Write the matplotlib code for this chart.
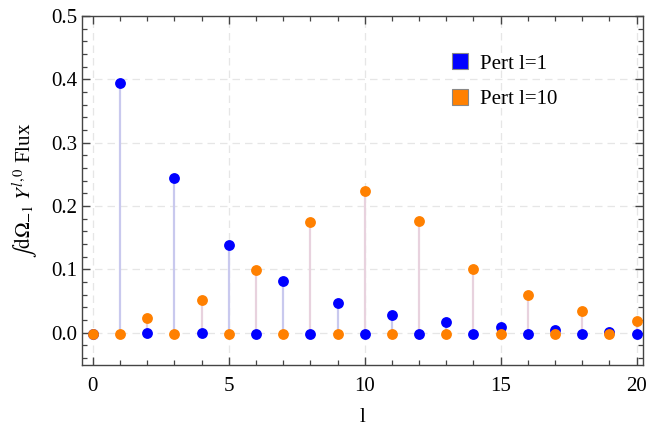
import matplotlib
matplotlib.use("Agg")
import matplotlib.pyplot as plt
from matplotlib.ticker import MultipleLocator
from matplotlib.lines import Line2D
import numpy as np

plt.rcParams['font.family'] = ['Liberation Serif', 'DejaVu Serif']
plt.rcParams['mathtext.fontset'] = 'stix'

l_vals = list(range(21))
pert1 = [-0.003, 0.394, -0.0005, 0.244, -0.0005, 0.139, -0.002, 0.081, -0.002, 0.047,
         -0.003, 0.028, -0.003, 0.016, -0.003, 0.008, -0.003, 0.0047, -0.003, 0.0016, -0.003]
pert10 = [-0.003, -0.003, 0.0236, -0.003, 0.052, -0.002, 0.098, -0.002, 0.175, -0.002,
          0.224, -0.002, 0.176, -0.002, 0.101, -0.002, 0.0586, -0.002, 0.0335, -0.002, 0.019]
labels = ["Pert l=1", "Pert l=10"]
colors = ["#0000FF", "#FF8000"]
stem_colors = ["#c9c9ee", "#e8d2de"]

fig = plt.figure(figsize=(6.46, 4.33), dpi=100)
ax = fig.add_axes([0.127, 0.156, 0.868, 0.807])

ax.grid(True, which='major', color='#e6e6e6', linestyle=(0, (6, 4)), linewidth=0.9)
ax.set_axisbelow(True)

for ys, c, sc in zip([pert1, pert10], colors, stem_colors):
    ax.vlines(l_vals, 0, ys, colors=sc, linewidth=1.6, zorder=2)
for ys, c, lab in zip([pert1, pert10], colors, labels):
    ax.plot(l_vals, ys, 'o', color=c, markersize=7.8, markeredgewidth=0, zorder=3, label=lab)

ax.set_xlim(-0.4, 20.23)
ax.set_ylim(-0.052, 0.5)
ax.xaxis.set_major_locator(MultipleLocator(5))
ax.xaxis.set_minor_locator(MultipleLocator(1))
ax.yaxis.set_major_locator(MultipleLocator(0.1))
ax.yaxis.set_minor_locator(MultipleLocator(0.02))
ax.yaxis.set_major_formatter(matplotlib.ticker.FormatStrFormatter('%.1f'))
ax.tick_params(which='both', direction='in', top=True, right=True, colors='#444444',
               labelcolor='black', labelsize=15)
ax.tick_params(which='major', length=6, width=1)
ax.tick_params(which='minor', length=3.5, width=0.9)
ax.tick_params(axis='x', pad=8)
for s in ax.spines.values():
    s.set_color('#444444')
    s.set_linewidth(1.0)

ax.set_xlabel('l', fontsize=15, labelpad=9)
ax.set_ylabel(r'$\int \mathrm{d}\Omega_{-1}\; Y^{l,0}$ Flux', fontsize=15, labelpad=8)

handles = [Line2D([0], [0], marker='s', linestyle='none', markerfacecolor=c,
                  markeredgecolor='#888888', markeredgewidth=0.8, markersize=11) for c in colors]
ax.legend(handles, labels, loc='upper left', bbox_to_anchor=(0.64, 0.915), frameon=False,
          fontsize=15, handletextpad=0.5, labelspacing=0.75, handlelength=1.0, borderaxespad=0)

fig.savefig('out.png', dpi=100)
